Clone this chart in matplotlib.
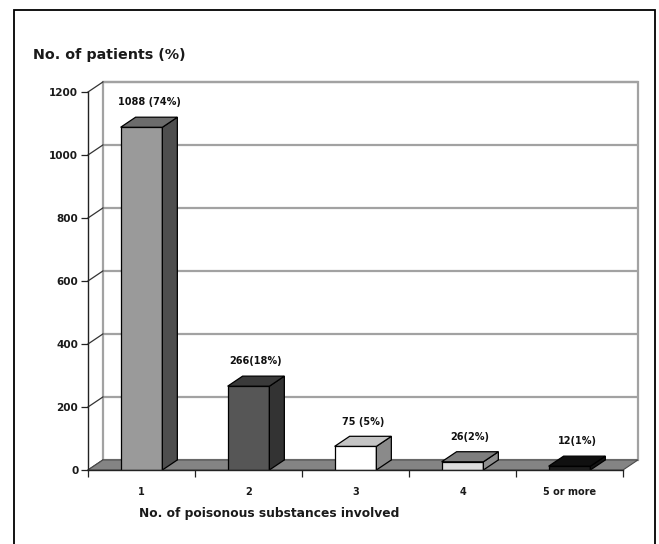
import matplotlib
matplotlib.use("Agg")
import matplotlib.pyplot as plt
from matplotlib.patches import Polygon, Rectangle
from matplotlib.ticker import FixedLocator, NullFormatter

# Patients grouped by the number of poisonous substances involved
categories = ["1", "2", "3", "4", "5 or more"]
patients = [1088, 266, 75, 26, 12]
value_labels = ["1088 (74%)", "266(18%)", "75 (5%)", "26(2%)", "12(1%)"]
y_ticks = [0, 200, 400, 600, 800, 1000, 1200]

# Face shades for each column: front, top and right side
front_colors = ["#9a9a9a", "#565656", "#ffffff", "#dedede", "#1e1e1e"]
top_colors = ["#6c6c6c", "#3a3a3a", "#c4c4c4", "#7e7e7e", "#101010"]
side_colors = ["#4e4e4e", "#333333", "#8a8a8a", "#8e8e8e", "#141414"]

plt.rcParams["font.family"] = ["DejaVu Sans"]

W, H, DPI = 659, 544, 100
fig = plt.figure(figsize=(W / DPI, H / DPI), dpi=DPI)
fig.patch.set_facecolor("white")

ax = fig.add_axes([88 / W, 74 / H, 535 / W, 378 / H])
ax.set_xlim(-0.5, len(categories) - 0.5)
ax.set_ylim(0, 1200)
ax.patch.set_visible(False)

# pseudo-3D depth offset, in data units
DX, DY = 0.14, 32
bar_w = 0.39
x_pos = list(range(len(categories)))
x0, x1 = -0.5, len(categories) - 0.5
grid_col = "#a2a2a2"

# back wall
ax.add_patch(Rectangle((x0 + DX, DY), x1 - x0, 1200, facecolor="white",
                       edgecolor=grid_col, lw=1.6, zorder=0.5, clip_on=False))
for t in y_ticks[1:]:
    ax.plot([x0 + DX, x1 + DX], [t + DY, t + DY], color=grid_col, lw=1.6,
            zorder=1, clip_on=False, solid_capstyle="butt")
for t in y_ticks:
    ax.plot([x0, x0 + DX], [t, t + DY], color="#333333", lw=0.9,
            zorder=1.2, clip_on=False)

# floor
ax.add_patch(Polygon([(x0, 0), (x1, 0), (x1 + DX, DY), (x0 + DX, DY)],
                     closed=True, facecolor="#848484", edgecolor="#4a4a4a",
                     lw=0.8, zorder=2, clip_on=False))

# columns
ax.bar(x_pos, patients, width=bar_w, color=front_colors, edgecolor="black",
       lw=0.9, zorder=4)
for xi, v, tc, sc, lbl in zip(x_pos, patients, top_colors, side_colors, value_labels):
    l, r = xi - bar_w / 2, xi + bar_w / 2
    ax.add_patch(Polygon([(r, 0), (r + DX, DY), (r + DX, v + DY), (r, v)],
                         closed=True, facecolor=sc, edgecolor="black",
                         lw=0.9, zorder=4, clip_on=False))
    ax.add_patch(Polygon([(l, v), (r, v), (r + DX, v + DY), (l + DX, v + DY)],
                         closed=True, facecolor=tc, edgecolor="black",
                         lw=0.9, zorder=4, clip_on=False))
    ax.annotate(lbl, xy=(xi + DX / 2, v + DY), xytext=(0, 7),
                textcoords="offset points", ha="center", va="bottom",
                fontsize=7, fontweight="bold", color="#111111", zorder=6)

# axes lines and ticks
for s in ("top", "right"):
    ax.spines[s].set_visible(False)
for s in ("left", "bottom"):
    ax.spines[s].set_color("#222222")
    ax.spines[s].set_linewidth(1.0)
    ax.spines[s].set_zorder(5)

ax.set_yticks(y_ticks)
ax.set_yticklabels([str(t) for t in y_ticks], fontsize=7.5, fontweight="bold",
                   color="#1a1a1a")
ax.tick_params(axis="y", length=5, width=0.9, pad=2, color="#222222")

ax.xaxis.set_major_locator(FixedLocator([x0 + i for i in range(len(categories) + 1)]))
ax.xaxis.set_major_formatter(NullFormatter())
ax.xaxis.set_minor_locator(FixedLocator(x_pos))
ax.set_xticklabels(categories, minor=True, fontsize=7, fontweight="bold",
                   color="#1a1a1a")
ax.tick_params(axis="x", which="major", length=5, width=0.9, color="#222222")
ax.tick_params(axis="x", which="minor", length=0, pad=12)

fig.text(33 / W, 1 - 55 / H, "No. of patients (%)", ha="left", va="center",
         fontsize=10.3, fontweight="bold", color="#1a1a1a")
fig.text(269 / W, 1 - 513 / H, "No. of poisonous substances involved",
         ha="center", va="center", fontsize=8.8, fontweight="bold", color="#1a1a1a")

# outer frame
fig.add_artist(Rectangle((14 / W, -0.05), (655 - 14) / W, 1.05 - 10 / H,
                         transform=fig.transFigure, fill=False,
                         edgecolor="black", lw=1.3))

fig.savefig("out.png", dpi=DPI, facecolor="white")
